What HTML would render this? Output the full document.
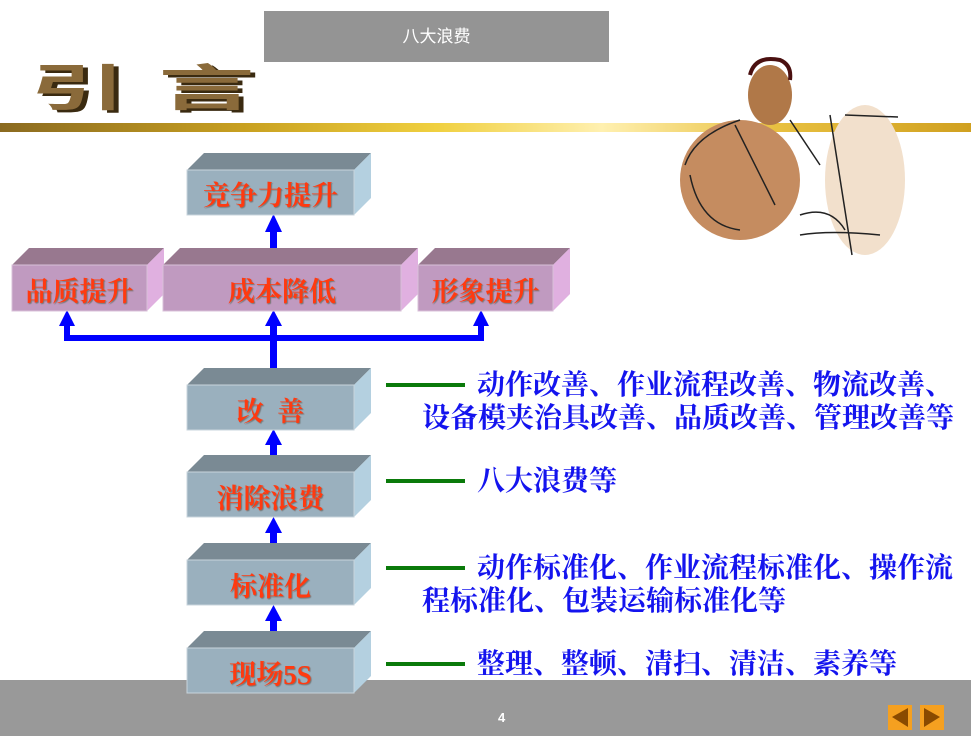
<!DOCTYPE html>
<html><head><meta charset="utf-8"><style>
body{margin:0;width:971px;height:736px;position:relative;overflow:hidden;background:#fff;font-family:"Liberation Serif","Noto Serif CJK SC",serif}
.a{position:absolute}
.lbl{position:absolute;color:#ff3a10;font-size:27px;font-weight:bold;text-align:center;text-shadow:1px 1px 1px #777;font-family:"Liberation Serif","Noto Serif CJK SC",serif;white-space:nowrap}
.bt{position:absolute;color:#1414ee;font-size:28px;font-weight:bold;line-height:33px;white-space:nowrap;font-family:"Liberation Serif","Noto Serif CJK SC",serif}
.g{position:absolute;left:386px;width:79px;height:4px;background:#0a7a0a}
</style></head><body>
<div class="a" style="left:264px;top:11px;width:345px;height:51px;background:#949494;color:#fff;font-size:17px;line-height:51px;text-align:center;font-family:'Liberation Sans','Noto Sans CJK SC',sans-serif">八大浪费</div>
<div class="a" style="left:30px;top:50px;font-size:58px;line-height:80px;letter-spacing:20px;color:#8a6a3a;font-weight:bold;font-family:'Noto Sans CJK SC',sans-serif;text-shadow:3px 3px 0 #3a2a10;transform:scale(1.65,0.85);transform-origin:left top">引言</div>
<div class="a" style="left:0;top:123px;width:971px;height:9px;background:linear-gradient(90deg,#8a6a20 0%,#c8a020 25%,#f0d040 45%,#fff0b0 62%,#e8c040 80%,#d0a020 100%)"></div>
<div class="a" style="left:0;top:680px;width:971px;height:56px;background:#999"></div>
<div class="a" style="left:498px;top:710px;color:#fff;font-size:13px;font-weight:bold;font-family:'Liberation Sans',sans-serif">4</div>
<div class="a" style="left:888px;top:705px;width:24px;height:25px;background:#f5a020"></div>
<div class="a" style="left:920px;top:705px;width:24px;height:25px;background:#f5a020"></div>
<svg class="a" style="left:0;top:0" width="971" height="736">
<polygon points="908,708 908,727 892,717" fill="#8a4a00"/>
<polygon points="924,708 924,727 940,717" fill="#8a4a00"/>
<g transform="translate(680,55)">
<ellipse cx="185" cy="125" rx="40" ry="75" fill="#f2e0cc"/>
<ellipse cx="60" cy="125" rx="60" ry="60" fill="#c58c60"/>
<ellipse cx="90" cy="40" rx="22" ry="30" fill="#b07848"/>
<path d="M70 20 Q75 0 100 5 Q112 10 110 25" stroke="#4a1010" stroke-width="4" fill="none"/>
<path d="M5 110 Q15 80 60 65 M55 70 L95 150 M110 65 L140 110 M150 60 L172 200 M165 60 L218 62 M120 160 Q150 150 165 175 M120 180 Q150 175 200 180 M10 120 Q20 170 60 175" stroke="#222" stroke-width="1.5" fill="none"/>
</g>
<g fill="#0000ff">
<rect x="270" y="230" width="7" height="36"/><polygon points="265,232 282,232 273.5,214"/>
<rect x="270" y="326" width="7" height="43"/><polygon points="265,326 282,326 273.5,310"/>
<rect x="64" y="335" width="420" height="6"/>
<rect x="64" y="326" width="6" height="12"/><polygon points="59,326 75,326 67,310"/>
<rect x="478" y="326" width="6" height="12"/><polygon points="473,326 489,326 481,310"/>
<rect x="270" y="443" width="7" height="13"/><polygon points="265,445 282,445 273.5,429"/>
<rect x="270" y="530" width="7" height="14"/><polygon points="265,533 282,533 273.5,517"/>
<rect x="270" y="618" width="7" height="14"/><polygon points="265,621 282,621 273.5,605"/>
</g>
<g>
<polygon points="187,170 204,153 371,153 354,170" fill="#7a8a94"/>
<polygon points="354,170 371,153 371,198 354,215" fill="#b4d0e0"/>
<rect x="187" y="170" width="167" height="45" fill="#9ab0be" stroke="#c8d4dc"/>
<polygon points="187,385 204,368 371,368 354,385" fill="#7a8a94"/>
<polygon points="354,385 371,368 371,413 354,430" fill="#b4d0e0"/>
<rect x="187" y="385" width="167" height="45" fill="#9ab0be" stroke="#c8d4dc"/>
<polygon points="187,472 204,455 371,455 354,472" fill="#7a8a94"/>
<polygon points="354,472 371,455 371,500 354,517" fill="#b4d0e0"/>
<rect x="187" y="472" width="167" height="45" fill="#9ab0be" stroke="#c8d4dc"/>
<polygon points="187,560 204,543 371,543 354,560" fill="#7a8a94"/>
<polygon points="354,560 371,543 371,588 354,605" fill="#b4d0e0"/>
<rect x="187" y="560" width="167" height="45" fill="#9ab0be" stroke="#c8d4dc"/>
<polygon points="187,648 204,631 371,631 354,648" fill="#7a8a94"/>
<polygon points="354,648 371,631 371,676 354,693" fill="#b4d0e0"/>
<rect x="187" y="648" width="167" height="45" fill="#9ab0be" stroke="#c8d4dc"/>
</g>
<g>
<polygon points="12,265 29,248 164,248 147,265" fill="#98788f"/>
<polygon points="147,265 164,248 164,294 147,311" fill="#e0b0e0"/>
<rect x="12" y="265" width="135" height="46" fill="#c09ac0" stroke="#d8c0d8"/>
<polygon points="163,265 180,248 418,248 401,265" fill="#98788f"/>
<polygon points="401,265 418,248 418,294 401,311" fill="#e0b0e0"/>
<rect x="163" y="265" width="238" height="46" fill="#c09ac0" stroke="#d8c0d8"/>
<polygon points="418,265 435,248 570,248 553,265" fill="#98788f"/>
<polygon points="553,265 570,248 570,294 553,311" fill="#e0b0e0"/>
<rect x="418" y="265" width="135" height="46" fill="#c09ac0" stroke="#d8c0d8"/>
</g>
</svg>
<div class="lbl" style="left:187px;top:174px;width:167px">竞争力提升</div>
<div class="lbl" style="left:12px;top:270px;width:135px">品质提升</div>
<div class="lbl" style="left:163px;top:270px;width:238px">成本降低</div>
<div class="lbl" style="left:418px;top:270px;width:135px">形象提升</div>
<div class="lbl" style="left:187px;top:390px;width:167px">改&nbsp;&nbsp;善</div>
<div class="lbl" style="left:187px;top:477px;width:167px">消除浪费</div>
<div class="lbl" style="left:187px;top:565px;width:167px">标准化</div>
<div class="lbl" style="left:187px;top:653px;width:167px">现场5S</div>
<div class="g" style="top:383px"></div>
<div class="g" style="top:479px"></div>
<div class="g" style="top:566px"></div>
<div class="g" style="top:662px"></div>
<div class="bt" style="left:477px;top:369px">动作改善、作业流程改善、物流改善、</div>
<div class="bt" style="left:422px;top:402px">设备模夹治具改善、品质改善、管理改善等</div>
<div class="bt" style="left:477px;top:465px">八大浪费等</div>
<div class="bt" style="left:477px;top:552px">动作标准化、作业流程标准化、操作流</div>
<div class="bt" style="left:422px;top:585px">程标准化、包装运输标准化等</div>
<div class="bt" style="left:477px;top:648px">整理、整顿、清扫、清洁、素养等</div>
</body></html>
